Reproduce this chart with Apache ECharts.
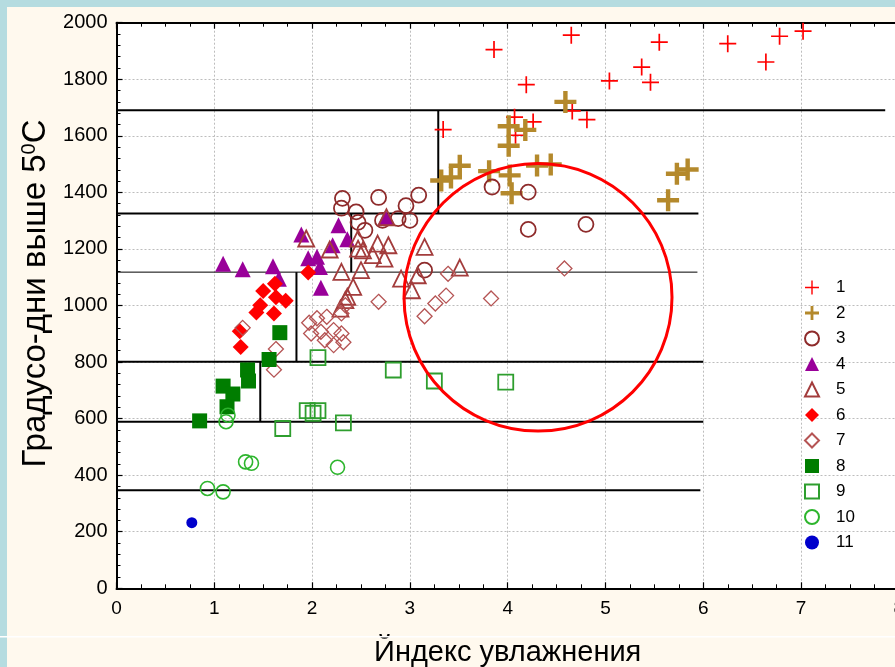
<!DOCTYPE html>
<html>
<head>
<meta charset="utf-8">
<script src="https://cdn.jsdelivr.net/npm/echarts@6/dist/echarts.min.js"></script>
<style>
  html, body { margin: 0; padding: 0; background: #FFF9EE; }
  #chart { width: 895px; height: 667px; }
</style>
</head>
<body>
<div id="chart"></div>
<script>
// Group labels shown in the legend
const groupNames = ['1', '2', '3', '4', '5', '6', '7', '8', '9', '10', '11'];

// [moisture index, degree-days above 5°C] for every group
const s1 = [[3.86,1905],[4.65,1956],[4.19,1781],[4.66,1688],[4.81,1657],[3.34,1622],[4.07,1666],[4.26,1649],[4.08,1602],[5.04,1794],[5.37,1843],[5.46,1789],[5.55,1931],[6.25,1926],[6.64,1861],[6.78,1952],[7.02,1970]];
const s2 = [[4.59,1720],[4.01,1634],[4.18,1621],[4.01,1565],[3.51,1494],[3.42,1453],[3.32,1442],[3.81,1475],[4.02,1460],[4.04,1397],[4.30,1495],[4.44,1499],[5.84,1481],[5.73,1466],[5.64,1372]];
const s3 = [[2.31,1379],[2.30,1344],[2.45,1331],[2.54,1266],[2.47,1294],[2.68,1382],[2.96,1353],[3.09,1390],[2.72,1301],[2.88,1307],[3.00,1301],[3.84,1419],[4.21,1401],[4.21,1269],[4.80,1287],[3.15,1125]];
const s4 = [[1.09,1148],[1.29,1128],[1.60,1139],[1.66,1095],[1.89,1251],[1.96,1167],[2.05,1172],[2.08,1136],[2.09,1063],[2.21,1213],[2.27,1284],[2.36,1234],[2.75,1310]];
const s5 = [[1.94,1237],[2.18,1198],[2.30,1119],[2.36,1031],[2.29,989],[2.34,1019],[2.42,1066],[2.47,1201],[2.50,1125],[2.52,1195],[2.67,1219],[2.78,1213],[2.62,1178],[2.74,1166],[3.15,1207],[3.51,1134],[2.91,1095],[3.02,1054],[3.08,1107],[2.76,1312],[2.47,1237]];
const s6 = [[1.96,1117],[1.62,1077],[1.50,1051],[1.63,1029],[1.73,1017],[1.47,1001],[1.43,975],[1.61,972],[1.26,909],[1.27,853]];
const s7 = [[1.29,921],[1.63,846],[1.61,773],[1.97,939],[2.05,955],[2.15,960],[1.99,901],[2.09,907],[2.22,913],[2.13,877],[2.30,901],[2.22,860],[2.32,870],[2.30,972],[2.34,1001],[2.68,1013],[3.15,962],[3.26,1007],[3.37,1035],[3.39,1112],[3.83,1025],[4.58,1131]];
const s8 = [[1.67,904],[1.56,809],[1.34,772],[1.35,733],[1.09,715],[1.19,687],[1.13,642],[0.85,592]];
const s9 = [[2.06,816],[2.83,772],[3.25,733],[3.98,729],[1.95,628],[2.06,628],[2.01,619],[1.70,565],[2.32,585]];
const s10 = [[1.14,612],[1.12,589],[1.32,447],[1.38,442],[2.26,428],[0.93,353],[1.09,341]];
const s11 = [[0.77,232]];

// Zone boundaries in data units: [x1, y1, x2, y2]
const boundaryLines = [[0,1690,7.86,1690],[0,1325,5.95,1325],[0,801,6.0,801],[0,589,6.0,589],[0,347,5.97,347],
                       [3.29,1690,3.29,1325],[2.40,1325,2.40,1118],[1.84,1118,1.84,801],[1.47,801,1.47,589]];
const thinLines = [[0,1118,5.94,1118]];
// Highlighted region: [centre x, centre y, radius x, radius y]
const highlightZone = [[4.31,1029,1.37,473]];

// Axis ranges and tick steps
const xRange = [0, 8], xStep = 1;
const yRange = [0, 2000], yStep = 200;

const plusThin = 'path://M4.5,0H5.5V4.5H10V5.5H5.5V10H4.5V5.5H0V4.5H4.5Z';
const plusBold = 'path://M4,0H6V4H10V6H6V10H4V6H0V4H4Z';
const FONT = 'Liberation Sans, Arial, sans-serif';

const groupData = [s1, s2, s3, s4, s5, s6, s7, s8, s9, s10, s11];
const groupStyle = [
  { symbol: plusThin, size: 17, fill: '#FF0000' },
  { symbol: plusBold, size: 22, fill: '#B4892C' },
  { symbol: 'circle', size: 15, stroke: '#8E2B2B', lw: 1.8 },
  { symbol: 'triangle', size: 16, fill: '#990099' },
  { symbol: 'triangle', size: 16, stroke: '#A33C3C', lw: 1.8 },
  { symbol: 'diamond', size: 16, fill: '#FF0000' },
  { symbol: 'diamond', size: 15, stroke: '#B55454', lw: 1.3 },
  { symbol: 'rect', size: 15, fill: '#007D00' },
  { symbol: 'rect', size: 15, stroke: '#2E9E2E', lw: 1.8 },
  { symbol: 'circle', size: 14, stroke: '#2DB52D', lw: 1.6 },
  { symbol: 'circle', size: 11, fill: '#0000CC' }
];

function segmentItem(width) {
  return function (params, api) {
    const p1 = api.coord([api.value(0), api.value(1)]);
    const p2 = api.coord([api.value(2), api.value(3)]);
    return {
      type: 'line',
      shape: { x1: p1[0], y1: p1[1], x2: p2[0], y2: p2[1] },
      style: { stroke: '#000', lineWidth: width }
    };
  };
}

const scatterSeries = groupNames.map((name, i) => {
  const st = groupStyle[i];
  const itemStyle = st.fill
    ? { color: st.fill, opacity: 1 }
    : { color: 'rgba(255,255,255,0)', borderColor: st.stroke, borderWidth: st.lw, opacity: 1 };
  return {
    name: name,
    type: 'scatter',
    data: groupData[i],
    symbol: st.symbol,
    symbolSize: st.size,
    symbolKeepAspect: true,
    itemStyle: itemStyle,
    z: 3,
    silent: true
  };
});

const chart = echarts.init(document.getElementById('chart'), null, { renderer: 'canvas' });

const axisCommon = {
  type: 'value',
  axisLine: { show: true, onZero: false, lineStyle: { color: '#000', width: 2 } },
  axisTick: { show: true, inside: true, length: 6, lineStyle: { color: '#000', width: 1.2 } },
  minorTick: { show: true, length: 4, lineStyle: { color: '#000', width: 1 } },
  splitLine: { show: true, lineStyle: { color: '#BDBDBD', width: 1, type: [2, 2] } }
};

chart.setOption({
  backgroundColor: '#FFF9EE',
  animation: false,
  graphic: [
    { type: 'rect', left: 0, top: 0, shape: { width: 7, height: 667 }, style: { fill: '#B5DCE0' }, z: 100 },
    { type: 'rect', left: 0, top: 0, shape: { width: 895, height: 7 }, style: { fill: '#B5DCE0' }, z: 100 },
    { type: 'rect', left: 0, top: 636, shape: { width: 895, height: 1.5 }, style: { fill: '#FFFFFF' }, z: 100 }
  ],
  grid: {
    left: 116.5, top: 22.7, width: 782.4, height: 565.6,
    containLabel: false, outerBoundsMode: 'none',
    show: true, backgroundColor: '#FFFFFF', borderWidth: 0
  },
  legend: {
    data: groupNames,
    orient: 'vertical',
    left: 799,
    top: 274,
    itemWidth: 14,
    itemHeight: 14,
    itemGap: 8.5,
    textStyle: { fontFamily: FONT, fontSize: 17, color: '#000', lineHeight: 17, padding: [0, 0, 0, 12] }
  },
  xAxis: [
    Object.assign({}, axisCommon, {
      position: 'bottom',
      min: xRange[0], max: xRange[1], interval: xStep,
      minorTick: Object.assign({}, axisCommon.minorTick, { splitNumber: 4 }),
      axisLabel: { fontFamily: FONT, fontSize: 19, color: '#000', margin: 11 },
      name: 'Йндекс увлажнения',
      nameLocation: 'middle',
      nameGap: 50,
      nameTextStyle: { fontFamily: FONT, fontSize: 29, color: '#000' }
    }),
    Object.assign({}, axisCommon, {
      position: 'top',
      min: xRange[0], max: xRange[1], interval: xStep,
      minorTick: Object.assign({}, axisCommon.minorTick, { splitNumber: 4 }),
      axisLabel: { show: false },
      splitLine: { show: false }
    })
  ],
  yAxis: Object.assign({}, axisCommon, {
    min: yRange[0], max: yRange[1], interval: yStep,
    minorTick: Object.assign({}, axisCommon.minorTick, { splitNumber: 5 }),
    axisLabel: { fontFamily: FONT, fontSize: 20, color: '#000', margin: 9, formatter: v => String(v) },
    name: 'Градусо-дни выше 5{sup|0}С',
    nameLocation: 'middle',
    nameGap: 43,
    nameTextStyle: {
      fontFamily: FONT, fontSize: 33, color: '#000', padding: [0, 0, 0, 24],
      rich: { sup: { fontFamily: FONT, fontSize: 20, color: '#000', verticalAlign: 'top', padding: [0, 0, 12, 0] } }
    }
  }),
  series: [
    {
      type: 'custom', name: 'boundaries', data: boundaryLines,
      renderItem: segmentItem(2), encode: { x: [0, 2], y: [1, 3] }, z: 2, silent: true
    },
    {
      type: 'custom', name: 'thinBoundaries', data: thinLines,
      renderItem: segmentItem(1), encode: { x: [0, 2], y: [1, 3] }, z: 2, silent: true
    }
  ].concat(scatterSeries).concat([
    {
      type: 'custom', name: 'zone', data: highlightZone, z: 5, silent: true,
      encode: { x: 0, y: 1 },
      renderItem: function (params, api) {
        const c = api.coord([api.value(0), api.value(1)]);
        const r = api.size([api.value(2), api.value(3)]);
        return {
          type: 'ellipse',
          shape: { cx: c[0], cy: c[1], rx: r[0], ry: r[1] },
          style: { fill: 'none', stroke: '#FF0000', lineWidth: 3 }
        };
      }
    }
  ])
});
</script>
</body>
</html>
